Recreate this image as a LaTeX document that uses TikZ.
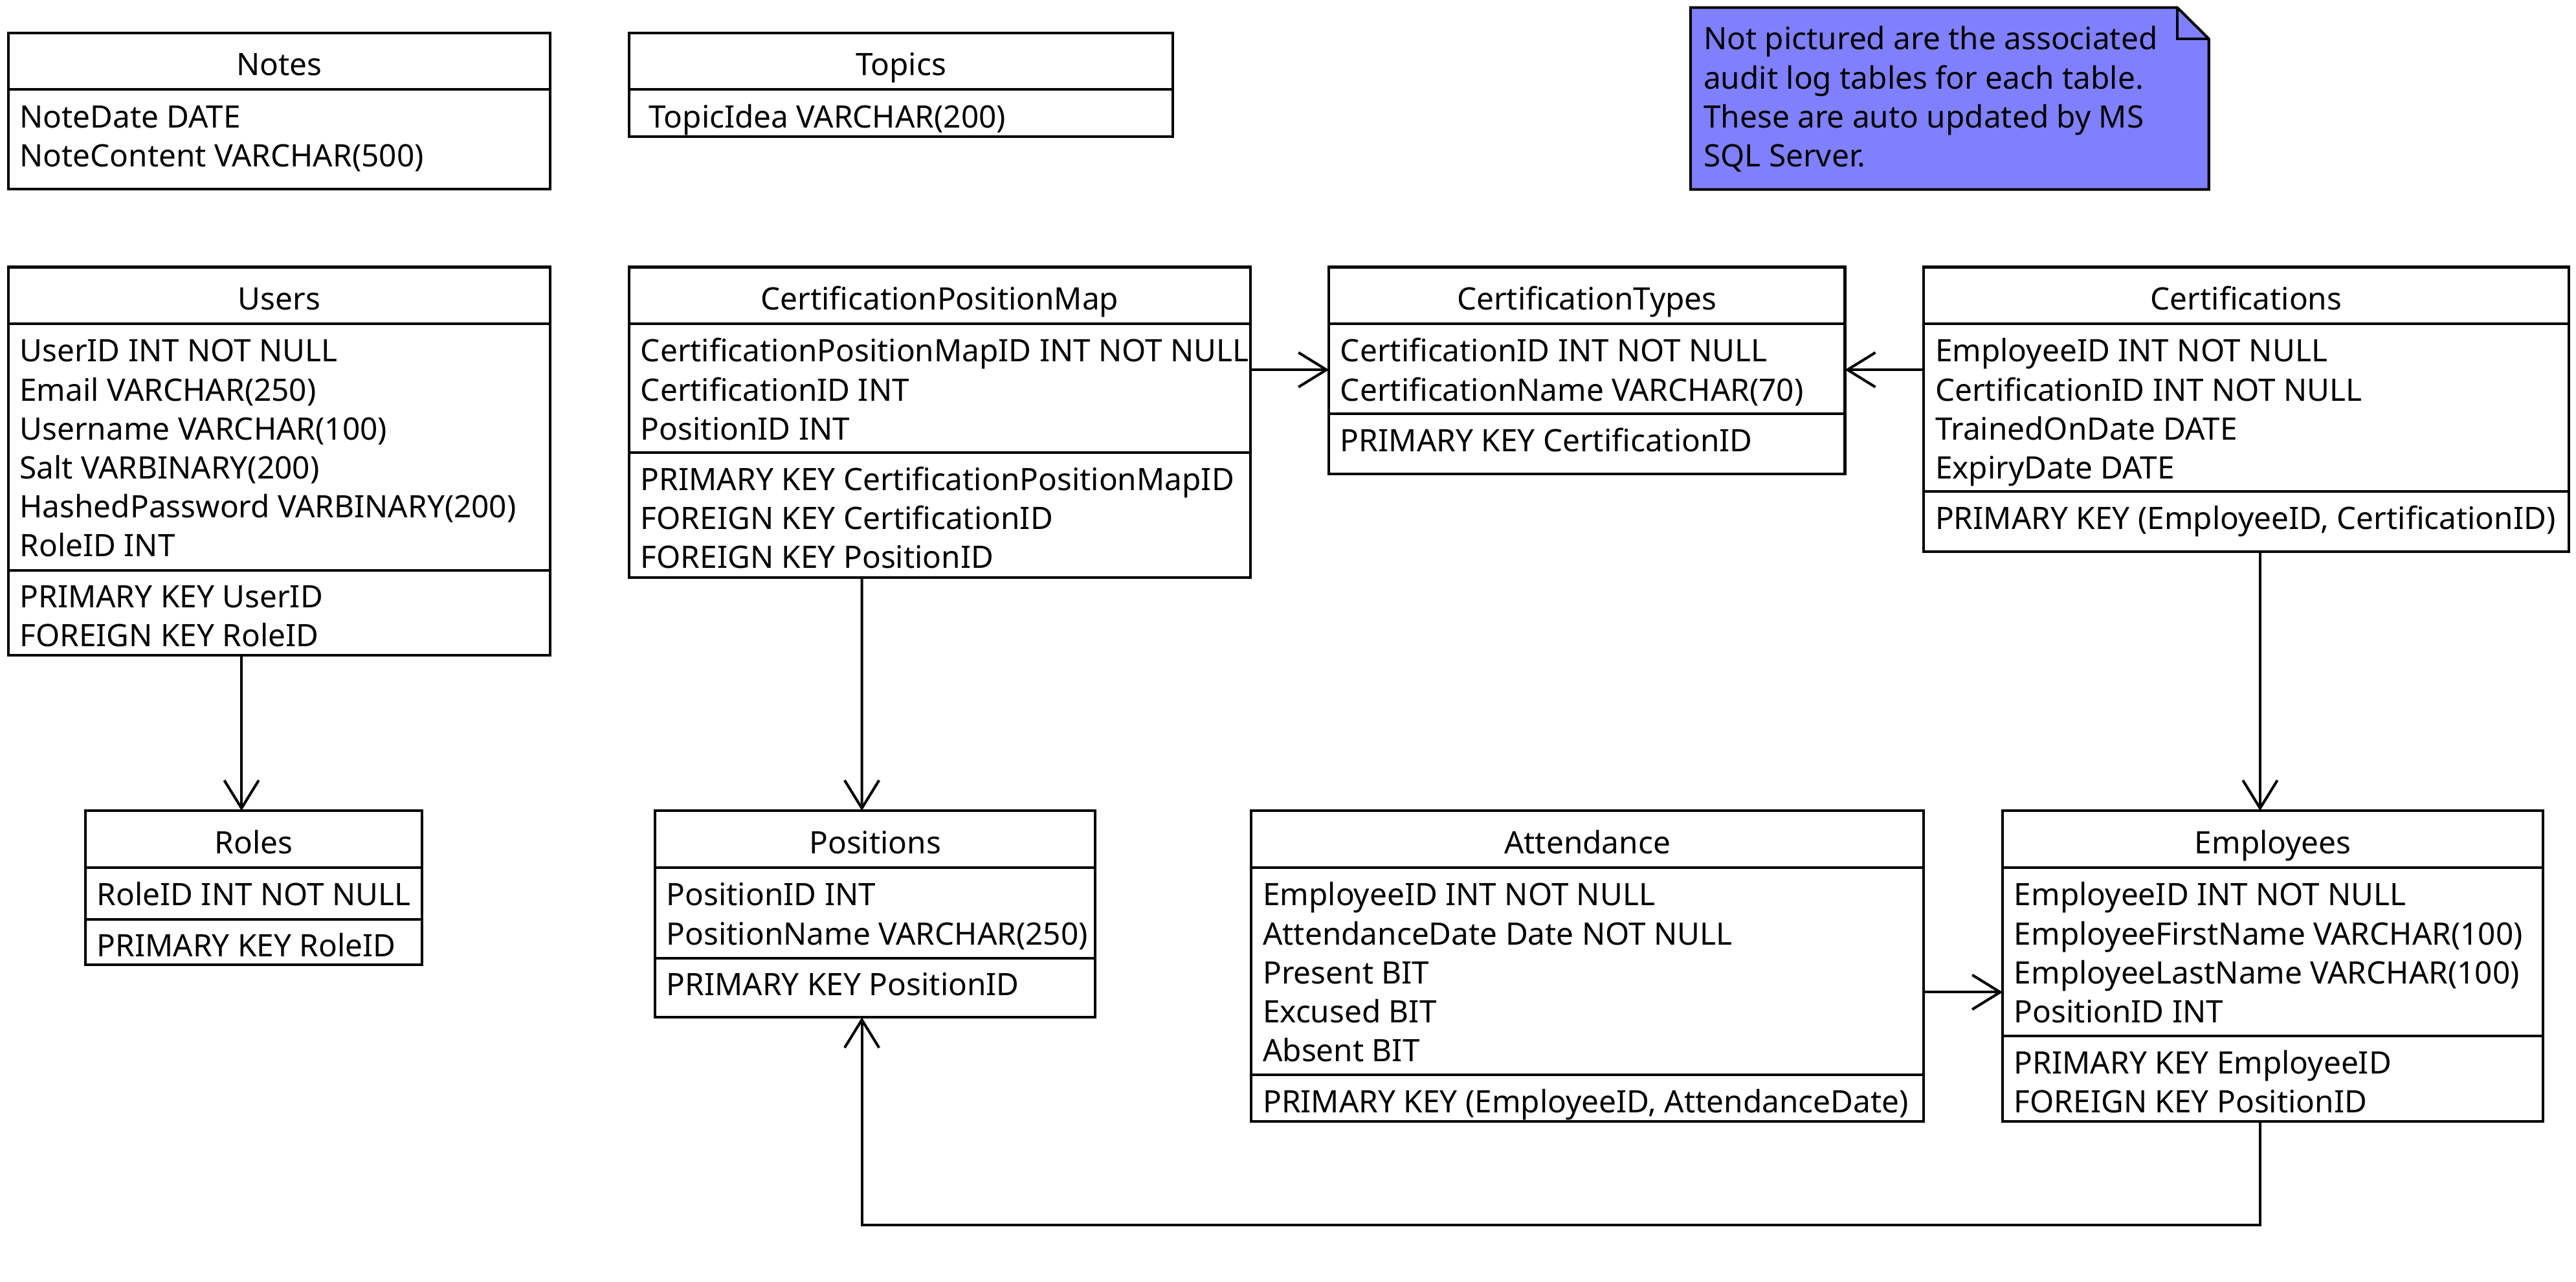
\documentclass[tikz,border=0pt]{standalone}
\usepackage{fontspec}
\setmainfont{Noto Sans}
\usetikzlibrary{arrows.meta,fit}
\definecolor{notefill}{HTML}{8080FF}
\tikzset{
  txt/.style={inner sep=0pt, outer sep=0pt, font=\fontsize{18.8pt}{23.7pt}\selectfont},
  tblbox/.style={draw, line width=1.6pt, inner sep=0pt, outer sep=0pt},
  rule/.style={line width=1.6pt},
  conn/.style={line width=1.6pt, -{Straight Barb[length=17pt,width=21pt]}},
}
% table: name, x1, y1, x2, y2, title
\newcommand\tbl[6]{%
  \node[tblbox, fit={(#2,#3) (#4,#5)}] (#1) {};
  \node[txt, anchor=base] (#1-title) at ({(#2+#4)/2},#3+26) {#6};
  \draw[rule] (#2,#3+34.5) -- (#4,#3+34.5);
}
% rows: prefix, x, first baseline, list
\newcommand\rows[4]{%
  \foreach \t [count=\i] in {#4}
    \node[txt, anchor=base west] (#1\i) at (#2, {#3+(\i-1)*23.7}) {\t};
}
\newcommand\sepline[3]{\draw[rule] (#1,#3) -- (#2,#3);}
\begin{document}
\begin{tikzpicture}[x=1pt,y=-1pt]
\useasboundingbox (0,0) rectangle (1568,780);

% Notes
\tbl{notes}{5}{20}{335}{115}{Notes}
\rows{notes-f}{12}{77.8}{NoteDate DATE, NoteContent VARCHAR(500)}

% Topics
\tbl{topics}{383}{20}{714}{83}{Topics}
\rows{topics-f}{395}{77.8}{TopicIdea VARCHAR(200)}

% Note
\filldraw[fill=notefill, line width=1.6pt, line join=miter]
  (1029,4.6) -- (1325.3,4.6) -- (1344.5,23.6) -- (1344.5,115.3) -- (1029,115.3) -- cycle;
\draw[line width=1.6pt] (1325.3,4.6) -- (1325.3,23.6) -- (1344.5,23.6);
\rows{note-l}{1037}{30.3}{Not pictured are the associated, audit log tables for each table., These are auto updated by MS, SQL Server.}

% Users
\tbl{users}{5}{162.5}{335}{398.7}{Users}
\rows{users-f}{12}{220.2}{UserID INT NOT NULL, Email VARCHAR(250), Username VARCHAR(100), Salt VARBINARY(200), HashedPassword VARBINARY(200), RoleID INT}
\sepline{5}{335}{346.9}
\rows{users-k}{12}{369.8}{PRIMARY KEY UserID, FOREIGN KEY RoleID}

% CertificationPositionMap
\tbl{cpm}{383}{162.5}{761}{351.5}{CertificationPositionMap}
\rows{cpm-f}{390}{220.2}{CertificationPositionMapID INT NOT NULL, CertificationID INT, PositionID INT}
\sepline{383}{761}{275.4}
\rows{cpm-k}{390}{298.3}{PRIMARY KEY CertificationPositionMapID, FOREIGN KEY CertificationID, FOREIGN KEY PositionID}

% CertificationTypes
\tbl{ct}{808.9}{162.5}{1123}{288.3}{CertificationTypes}
\rows{ct-f}{815.9}{220.2}{CertificationID INT NOT NULL, CertificationName VARCHAR(70)}
\sepline{808.9}{1123}{251.7}
\rows{ct-k}{815.9}{274.6}{PRIMARY KEY CertificationID}

% Certifications
\tbl{cert}{1171}{162.5}{1563.5}{335.8}{Certifications}
\rows{cert-f}{1178}{220.2}{EmployeeID INT NOT NULL, CertificationID INT NOT NULL, TrainedOnDate DATE, ExpiryDate DATE}
\sepline{1171}{1563.5}{299.1}
\rows{cert-k}{1178}{322}{{PRIMARY KEY (EmployeeID, CertificationID)}}

% Roles
\tbl{roles}{52}{493.3}{257}{587}{Roles}
\rows{roles-f}{59}{551.1}{RoleID INT NOT NULL}
\sepline{52}{257}{559.3}
\rows{roles-k}{59}{582.2}{PRIMARY KEY RoleID}

% Positions
\tbl{pos}{398.7}{493.3}{666.7}{619}{Positions}
\rows{pos-f}{405.7}{551.1}{PositionID INT, PositionName VARCHAR(250)}
\sepline{398.7}{666.7}{583}
\rows{pos-k}{405.7}{605.9}{PRIMARY KEY PositionID}

% Attendance
\tbl{att}{761.7}{493.3}{1170.8}{682.5}{Attendance}
\rows{att-f}{768.7}{551.1}{EmployeeID INT NOT NULL, AttendanceDate Date NOT NULL, Present BIT, Excused BIT, Absent BIT}
\sepline{761.7}{1170.8}{654}
\rows{att-k}{768.7}{677}{{PRIMARY KEY (EmployeeID, AttendanceDate)}}

% Employees
\tbl{emp}{1219}{493.3}{1548}{682.5}{Employees}
\rows{emp-f}{1226}{551.1}{EmployeeID INT NOT NULL, EmployeeFirstName VARCHAR(100), EmployeeLastName VARCHAR(100), PositionID INT}
\sepline{1219}{1548}{630.4}
\rows{emp-k}{1226}{653.3}{PRIMARY KEY EmployeeID, FOREIGN KEY PositionID}

% Connectors
\draw[conn] ([xshift=142pt]users.south west) -- ([xshift=95pt]roles.north west);
\draw[conn] ([yshift=-62.5pt]cpm.north east) -- ([yshift=-62.5pt]ct.north west);
\draw[conn] ([yshift=-62.5pt]cert.north west) -- ([yshift=-62.5pt]ct.north east);
\draw[conn] ([xshift=141.6pt]cpm.south west) -- ([xshift=125.9pt]pos.north west);
\draw[conn] ([xshift=204.7pt]cert.south west) -- ([xshift=156.7pt]emp.north west);
\draw[conn] ([yshift=-110.4pt]att.north east) -- ([yshift=-110.4pt]emp.north west);
\coordinate (bend) at ([xshift=156.7pt,yshift=-63pt]emp.south west);
\draw[conn] ([xshift=156.7pt]emp.south west) -- (bend) -| ([xshift=125.9pt]pos.south west);
\end{tikzpicture}
\end{document}
